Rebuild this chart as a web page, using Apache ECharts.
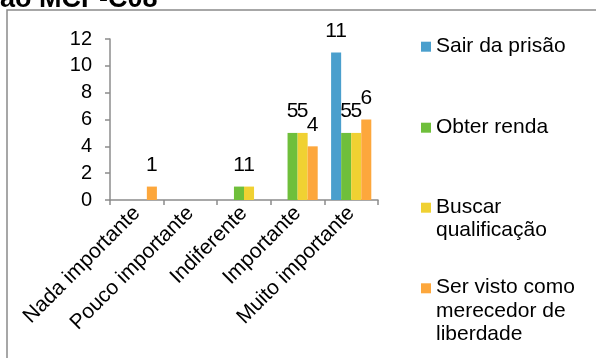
<!DOCTYPE html>
<html><head><meta charset="utf-8">
<script src="https://cdn.jsdelivr.net/npm/echarts@6/dist/echarts.min.js"></script>
<style>html,body{margin:0;padding:0;background:#fff}#c{width:596px;height:358px}</style>
</head><body><div id="c"></div>
<script>
const categories = ['Nada importante','Pouco importante','Indiferente','Importante','Muito importante'];
const seriesNames = ['Sair da prisão','Obter renda','Buscar qualificação','Ser visto como merecedor de liberdade'];
const legendLabels = ['Sair da prisão','Obter renda','Buscar\nqualificação','Ser visto como\nmerecedor de\nliberdade'];
const sairDaPrisao = [0,0,0,0,11];
const obterRenda = [0,0,1,5,5];
const buscarQualificacao = [0,0,1,5,5];
const serVisto = [1,0,0,4,6];
const yTicks = [0,2,4,6,8,10,12];
const colors = ['#4a9fcd','#6fbf3b','#f0d132','#fda73c'];
const titleText = 'ao MCP-C08';

const FONT = '"Liberation Sans", Arial, sans-serif';
const allData = [sairDaPrisao, obterRenda, buscarQualificacao, serVisto];
const legendY = [46.7, 127.7, 207.7, 288.3];

const graphic = [
  {type:'rect', shape:{x:7,y:10,width:620,height:400}, style:{fill:'none', stroke:'#8a8a8a', lineWidth:1.5}, z:0},
  {type:'text', style:{text:titleText, x:0, y:13, font:'bold 27px '+FONT, fill:'#000', verticalAlign:'bottom'}, z:10}
];
legendLabels.forEach((lbl,i)=>{
  graphic.push({type:'rect', shape:{x:421,y:legendY[i]-5,width:10,height:10}, style:{fill:colors[i]}});
  graphic.push({type:'text', style:{text:lbl, x:436, y:legendY[i]-12.5, font:'21px '+FONT, fill:'#000', lineHeight:23.5, verticalAlign:'top'}});
});

const chart = echarts.init(document.getElementById('c'));
chart.setOption({
  animation:false,
  textStyle:{fontFamily:FONT},
  grid:{left:110, top:39, width:268, height:161, containLabel:false},
  xAxis:{type:'category', data:categories,
    axisLine:{lineStyle:{color:'#8c8c8c', width:1.5}},
    axisTick:{show:true, length:5, lineStyle:{color:'#8c8c8c', width:1.5}},
    axisLabel:{rotate:45, interval:0, fontSize:21, color:'#000', margin:10, fontFamily:FONT}
  },
  yAxis:{type:'value', min:0, max:12, interval:2,
    axisLine:{show:true, lineStyle:{color:'#8c8c8c', width:1.5}},
    axisTick:{show:true, length:5, lineStyle:{color:'#8c8c8c', width:1.5}},
    splitLine:{show:false},
    axisLabel:{fontSize:20, color:'#000', margin:18, fontFamily:FONT}
  },
  series: seriesNames.map((n,i)=>({
    name:n, type:'bar', data:allData[i], barGap:'0%', barCategoryGap:'25%',
    itemStyle:{color:colors[i]},
    label:{show:true, position:'top', distance:11, fontSize:21, color:'#000', fontFamily:FONT,
      formatter:p=>p.value?String(p.value):''}
  })),
  graphic: graphic
});
</script></body></html>
